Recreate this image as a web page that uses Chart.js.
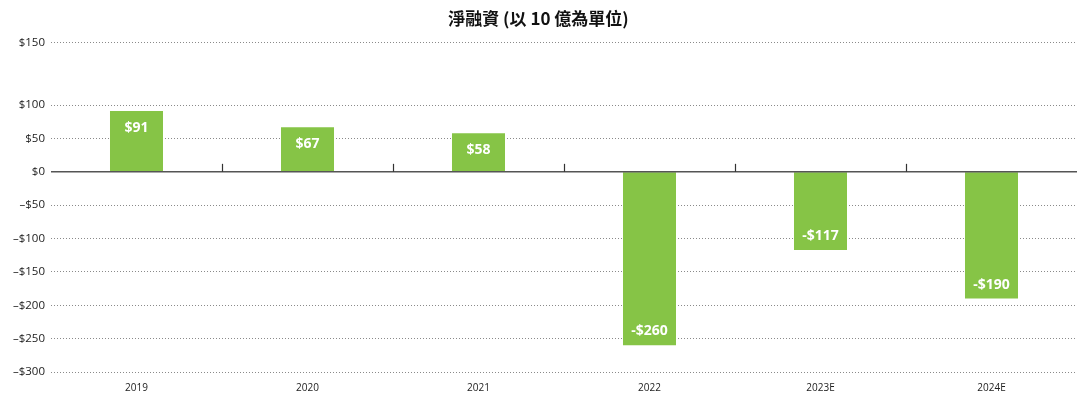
<!DOCTYPE html>
<html lang="zh-Hant">
<head>
    <meta charset="UTF-8">
    <title>淨融資</title>
    <script src="https://cdn.jsdelivr.net/npm/chart.js"></script>
    <style>
        html, body { margin: 0; padding: 0; background: #fff; }
        #wrap { width: 1090px; height: 397px; }
    </style>
</head>
<body>
    <div id="wrap"><canvas id="netChart"></canvas></div>

    <script>
        // data
        const years = ['2019', '2020', '2021', '2022', '2023E', '2024E'];
        const netFinancing = [91, 67, 58, -260, -117, -190];
        const valueLabels = ['$91', '$67', '$58', '-$260', '-$117', '-$190'];

        // y axis: the top line sits higher than the 50-step spacing but is labelled $150
        const yTickValues = [-300, -250, -200, -150, -100, -50, 0, 50, 100, 194];
        const yTickLabels = ['–$300', '–$250', '–$200', '–$150', '–$100', '–$50', '$0', '$50', '$100', '$150'];

        const barGreen = '#86c446';

        // white value labels inside the bar ends
        const valueLabelPlugin = {
            id: 'valueLabels',
            afterDatasetsDraw(chart) {
                const ctx = chart.ctx;
                const meta = chart.getDatasetMeta(0);
                ctx.save();
                ctx.fillStyle = '#ffffff';
                ctx.font = 'bold 14px "Open Sans", sans-serif';
                ctx.textAlign = 'center';
                ctx.textBaseline = 'middle';
                meta.data.forEach((bar, i) => {
                    const y = netFinancing[i] >= 0 ? bar.y + 17 : bar.y - 14;
                    ctx.fillText(valueLabels[i], bar.x, y);
                });
                ctx.restore();
            }
        };

        // solid axis line at zero with small ticks between categories
        const zeroAxisPlugin = {
            id: 'zeroAxis',
            afterDatasetsDraw(chart) {
                const ctx = chart.ctx;
                const x = chart.scales.x;
                const y0 = chart.scales.y.getPixelForValue(0);
                ctx.save();
                ctx.strokeStyle = '#555555';
                ctx.lineWidth = 1.5;
                ctx.beginPath();
                ctx.moveTo(chart.chartArea.left, y0);
                ctx.lineTo(chart.chartArea.right, y0);
                ctx.stroke();
                ctx.lineWidth = 1.2;
                ctx.strokeStyle = '#333333';
                for (let i = 1; i < years.length; i++) {
                    const tx = Math.round(x.getPixelForValue(i - 0.5)) + 0.5;
                    ctx.beginPath();
                    ctx.moveTo(tx, y0 - 8);
                    ctx.lineTo(tx, y0);
                    ctx.stroke();
                }
                ctx.restore();
            }
        };

        new Chart(document.getElementById('netChart'), {
            type: 'bar',
            data: {
                labels: years,
                datasets: [{
                    data: netFinancing,
                    backgroundColor: barGreen,
                    borderWidth: 0,
                    barPercentage: 0.31,
                    categoryPercentage: 1.0
                }]
            },
            options: {
                responsive: true,
                maintainAspectRatio: false,
                animation: false,
                layout: { padding: { top: 8, right: 13, bottom: 1, left: 0 } },
                plugins: {
                    legend: { display: false },
                    tooltip: { enabled: false },
                    title: {
                        display: true,
                        text: '淨融資 (以 10 億為單位)',
                        color: '#111',
                        font: { family: '"Noto Sans CJK TC", sans-serif', size: 17, weight: 'bold' },
                        padding: { top: 0, bottom: 14 }
                    }
                },
                scales: {
                    x: {
                        grid: { display: false },
                        border: { display: false },
                        ticks: {
                            color: '#222',
                            font: { family: '"Open Sans", sans-serif', size: 10 },
                            padding: 2
                        }
                    },
                    y: {
                        min: -300,
                        max: 194,
                        afterBuildTicks(axis) {
                            axis.ticks = yTickValues.map(v => ({ value: v }));
                        },
                        afterFit(axis) {
                            axis.width = 51;
                        },
                        border: { display: false, dash: [1, 2] },
                        grid: {
                            color: ctx => ctx.tick && ctx.tick.value === 0 ? 'rgba(0,0,0,0)' : '#8a8a8a',
                            lineWidth: 1,
                            drawTicks: false
                        },
                        ticks: {
                            color: '#222',
                            padding: 6,
                            font: { family: '"Open Sans", sans-serif', size: 11.5 },
                            callback: function (value) {
                                const idx = yTickValues.indexOf(value);
                                return idx >= 0 ? yTickLabels[idx] : '';
                            }
                        }
                    }
                }
            },
            plugins: [valueLabelPlugin, zeroAxisPlugin]
        });
    </script>
</body>
</html>
